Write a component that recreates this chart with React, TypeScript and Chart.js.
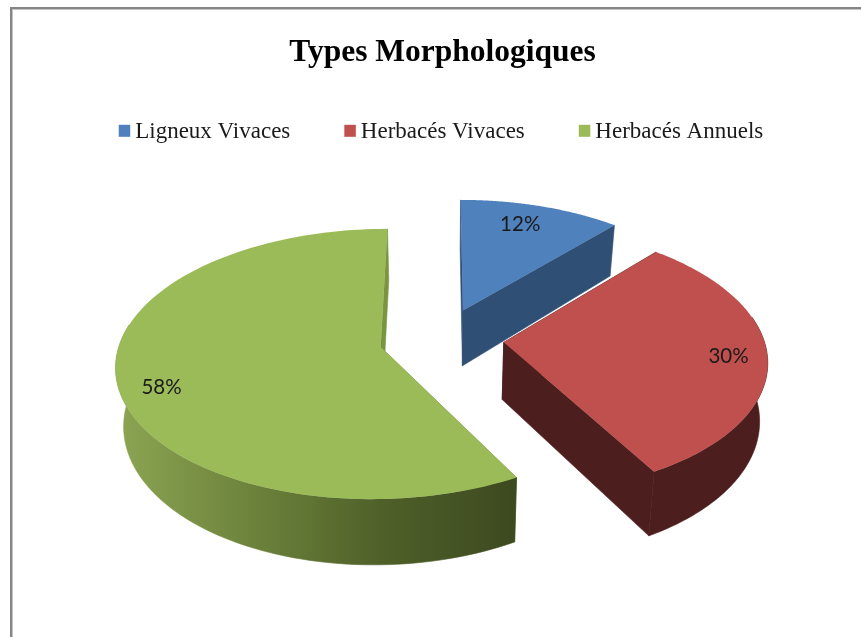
import React, { useEffect, useRef } from "react";
import { Chart, registerables } from "chart.js";

Chart.register(...registerables);

const categories = ["Ligneux Vivaces", "Herbacés Vivaces", "Herbacés Annuels"];
const seriesValues = [11.5, 30.4, 58.1];
const topColors = ["#4f81bd", "#c0504d", "#9bbb59"];
const wallColors = ["#2f4f75", "#4c1e1d", "#7a9540"];
const greenWallStops = ["#8ba452", "#6d833c", "#4f6029", "#3d4a20"];
const labelRadius = [0.795, 0.854, 0.849];
const labelTurnDeg = [-2, 1, -5.6];
const chartTitle = "Types Morphologiques";

const CX = 441.5, CY = 339, SX = 260, SY = 131, PERSP = 0.125, DEPTH = 57, BOTTOM = 0.975;

function project(u: number, v: number, low: boolean) {
  const f = 1 / (1 - PERSP * v);
  return {
    x: CX + SX * u * f * (low ? BOTTOM : 1),
    y: CY + SY * v * f + (low ? DEPTH * f : 0),
  };
}

function slicePoints(arc: any, low: boolean) {
  const e = arc.options.offset / 4 / arc.outerRadius;
  const mid = (arc.startAngle + arc.endAngle) / 2;
  const u0 = Math.cos(mid) * e, v0 = Math.sin(mid) * e;
  const pts: { x: number; y: number }[] = [];
  const front: { x: number; y: number }[] = [];
  const steps = 120;
  for (let i = 0; i <= steps; i++) {
    const a = arc.startAngle + ((arc.endAngle - arc.startAngle) * i) / steps;
    const p = project(u0 + Math.cos(a), v0 + Math.sin(a), low);
    pts.push(p);
    if (Math.sin(a) > -0.2) front.push(p);
  }
  return { apex: project(u0, v0, low), pts, front, u0, v0, mid };
}

function fillPoly(ctx: CanvasRenderingContext2D, pts: { x: number; y: number }[], fill: any, seam = false) {
  if (pts.length < 3) return;
  ctx.beginPath();
  pts.forEach((p, i) => (i ? ctx.lineTo(p.x, p.y) : ctx.moveTo(p.x, p.y)));
  ctx.closePath();
  ctx.fillStyle = fill;
  ctx.fill();
  if (seam) {
    ctx.strokeStyle = fill;
    ctx.lineWidth = 0.6;
    ctx.stroke();
  }
}

const pie3d = {
  id: "pie3d",
  beforeDraw(chart: any) {
    const { ctx, width, height } = chart;
    ctx.save();
    ctx.fillStyle = "#ffffff";
    ctx.fillRect(0, 0, width, height);
    ctx.fillStyle = "#858585";
    ctx.fillRect(10, 7, width - 10, 2);
    ctx.fillRect(10, 7, 2, height - 7);
    ctx.fillStyle = "#c4c4c4";
    ctx.fillRect(12, 9, width - 12, 1);
    ctx.fillRect(12, 9, 1, height - 9);
    ctx.restore();

    const wrap = (box: any, dx: number, dy: number, extra?: (b: any) => void) => {
      if (!box || box.__wrapped) return;
      const orig = box.draw;
      box.__wrapped = true;
      box.draw = function (...args: any[]) {
        const c = chart.ctx;
        c.save();
        c.translate(dx, dy);
        orig.apply(box, args);
        if (extra) extra(box);
        c.restore();
      };
    };
    wrap(chart.titleBlock, 12, 0);
    wrap(chart.legend, 13, -10, (lg: any) => {
      const c = chart.ctx;
      lg.legendHitBoxes.forEach((h: any, i: number) => {
        c.fillStyle = topColors[i];
        c.fillRect(h.left - 5, h.top + 4, 11.5, 12);
      });
    });
  },
  beforeDatasetDraw(chart: any, args: any) {
    const { ctx } = chart;
    const arcs = chart.getDatasetMeta(args.index).data;
    arcs.forEach((arc: any, i: number) => {
      const top = slicePoints(arc, false);
      const low = slicePoints(arc, true);
      let wallFill: any = wallColors[i];
      if (i === 2) {
        const g = ctx.createLinearGradient(120, 0, 512, 0);
        greenWallStops.forEach((c, k) => g.addColorStop(k / (greenWallStops.length - 1), c));
        wallFill = g;
      }
      fillPoly(ctx, [top.apex, top.pts[0], low.pts[0], low.apex], wallColors[i], true);
      fillPoly(ctx, [top.apex, top.pts[top.pts.length - 1], low.pts[low.pts.length - 1], low.apex], wallColors[i], true);
      fillPoly(ctx, [...top.front, ...[...low.front].reverse()], wallFill, true);
      fillPoly(ctx, [top.apex, ...top.pts], topColors[i]);
    });
    return false;
  },
  afterDatasetsDraw(chart: any) {
    const { ctx } = chart;
    const arcs = chart.getDatasetMeta(0).data;
    const total = seriesValues.reduce((a, b) => a + b, 0);
    ctx.save();
    ctx.font = '20.5px Lato, "Open Sans", sans-serif';
    ctx.fillStyle = "#1a1a1a";
    ctx.textAlign = "center";
    ctx.textBaseline = "middle";
    arcs.forEach((arc: any, i: number) => {
      const s = slicePoints(arc, false);
      const a = s.mid + (labelTurnDeg[i] * Math.PI) / 180;
      const p = project(s.u0 + Math.cos(a) * labelRadius[i], s.v0 + Math.sin(a) * labelRadius[i], false);
      ctx.fillText(Math.round((seriesValues[i] / total) * 100) + "%", p.x, p.y);
    });
    ctx.restore();
  },
};

export default function App() {
  const ref = useRef<HTMLCanvasElement>(null);
  useEffect(() => {
    document.body.style.margin = "0";
    document.body.style.overflow = "hidden";
    const chart = new Chart(ref.current!, {
      type: "pie",
      data: {
        labels: categories,
        datasets: [
          {
            data: seriesValues,
            backgroundColor: topColors,
            borderWidth: 0,
            offset: 96,
          },
        ],
      },
      options: {
        animation: false,
        responsive: false,
        radius: 100,
        plugins: {
          tooltip: { enabled: false },
          title: {
            display: true,
            text: chartTitle,
            color: "#000000",
            font: { family: '"Liberation Serif"', size: 31.5, weight: "bold" },
            padding: { top: 34, bottom: 0 },
          },
          legend: {
            display: true,
            position: "top",
            labels: {
              boxWidth: 0,
              color: "#1a1a1a",
              padding: 59,
              font: { family: '"Liberation Serif"', size: 23 },
            },
          },
        },
      },
      plugins: [pie3d],
    } as any);
    return () => chart.destroy();
  }, []);
  return <canvas ref={ref} width={861} height={637} style={{ display: "block" }} />;
}
